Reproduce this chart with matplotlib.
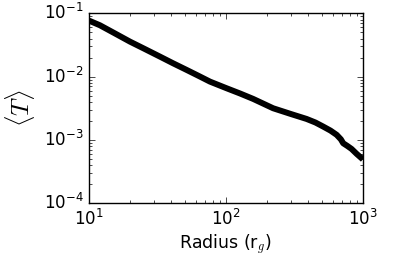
import matplotlib
matplotlib.use('Agg')
import matplotlib.pyplot as plt
import matplotlib.ticker as mticker
import numpy as np

plt.style.use('classic')
plt.rcParams['mathtext.fontset'] = 'cm'
plt.rcParams['axes.unicode_minus'] = False

# radius in r_g and mean value <T>
radius = [10, 12, 15, 19.9, 25, 33, 41, 51.6, 63, 76.4, 101, 127, 158, 221, 300,
          388, 450, 513, 580, 643, 690, 718, 770, 826, 900, 977, 1000]
t_mean = [0.0769, 0.0650, 0.0500, 0.0358, 0.0280, 0.0207, 0.0163, 0.01277, 0.0103,
          0.00834, 0.00655, 0.0054, 0.00444, 0.00316, 0.00255, 0.00214, 0.00188,
          0.00162, 0.00140, 0.0012, 0.00102, 0.000883, 0.00080, 0.000718, 0.00060,
          0.000513, 0.00049]

fig = plt.figure(figsize=(4.15, 2.58), dpi=100, facecolor='white')
ax = fig.add_axes([0.2145, 0.213, 0.66, 0.735])
ax.plot(radius, t_mean, color='black', lw=4.3, solid_capstyle='butt')

ax.set_xscale('log')
ax.set_yscale('log')
ax.set_xlim(10, 1000)
ax.set_ylim(1e-4, 1e-1)

fmt = mticker.FuncFormatter(lambda v, p: r'$\mathdefault{10^{%d}}$' % int(round(np.log10(v))))
ax.xaxis.set_major_formatter(fmt)
ax.yaxis.set_major_formatter(fmt)
ax.tick_params(labelsize=12)

ax.set_xlabel(r'Radius (r$_g$)', fontsize=12.5, labelpad=3)
ax.set_ylabel(r'$\langle T\rangle$', fontsize=18)

fig.savefig('out.png', dpi=100, facecolor='white')
